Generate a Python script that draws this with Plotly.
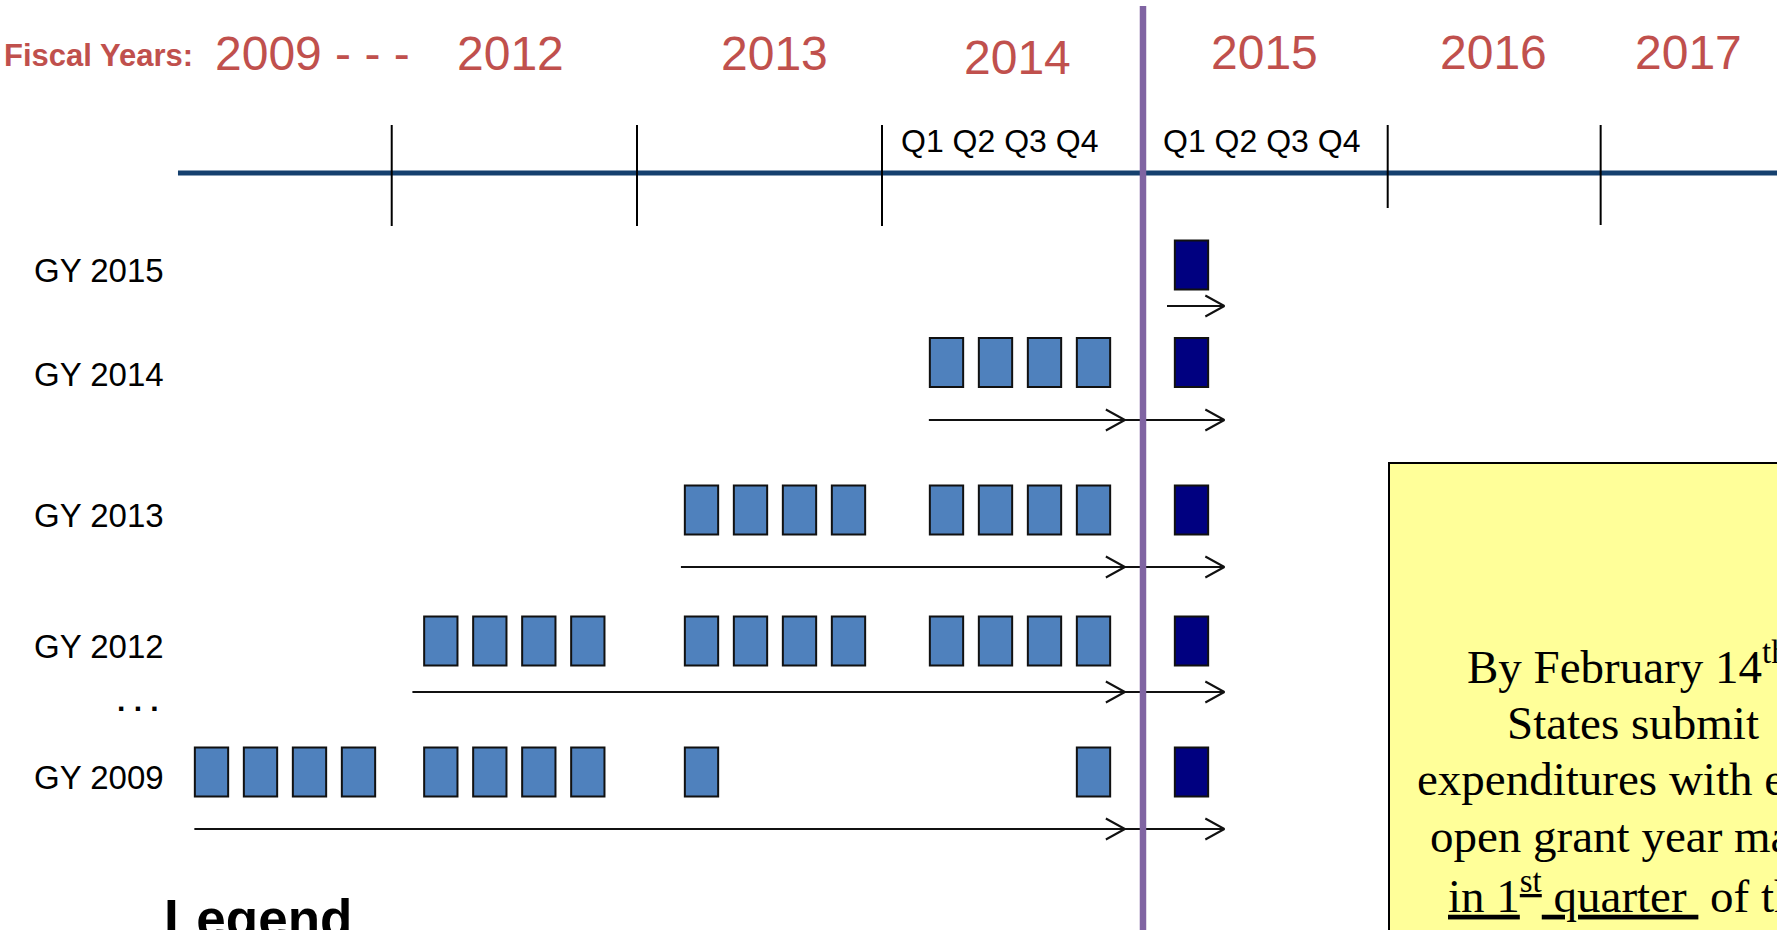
import plotly.graph_objects as go

# ---------------- data ----------------
axis_title = "Fiscal Years:"
fiscal_year_labels = ["2009 - - -", "2012", "2013", "2014", "2015", "2016", "2017"]
quarter_labels = ["Q1", "Q2", "Q3", "Q4"]
quarter_label_years = ["2014", "2015"]
grant_years = ["GY 2015", "GY 2014", "GY 2013", "GY 2012", "GY 2009"]
report_columns = ["2009", "2012", "2013", "2014"]
# quarters with reported expenditures, per grant year, per fiscal-year column
gy2015_reports = [[], [], [], []]
gy2014_reports = [[], [], [], [1, 2, 3, 4]]
gy2013_reports = [[], [], [1, 2, 3, 4], [1, 2, 3, 4]]
gy2012_reports = [[], [1, 2, 3, 4], [1, 2, 3, 4], [1, 2, 3, 4]]
gy2009_reports = [[1, 2, 3, 4], [1, 2, 3, 4], [1], [4]]
current_year = "2015"
current_quarter = 1
ellipsis_label = ". . ."
legend_title = "Legend"
note_lines = [
    "By February 14<sup>th</sup>,",
    "States submit",
    "expenditures with each",
    "open grant year made",
    "<u>in 1<sup>st</sup> quarter </u> of the",
]

# ---------------- layout geometry (not data) ----------------
W, H = 1777, 930
PX_PER_Q = 49.0          # pixels per quarter on the x axis
X0_PX = 211.5            # pixel of x = 0
x_min = -X0_PX / PX_PER_Q
x_max = (W - X0_PX) / PX_PER_Q

col_q1 = {"2009": 0.0, "2012": 4.68, "2013": 10.0, "2014": 15.0, "2015": 20.0}
year_label_x = [0.031, 6.112, 11.48, 16.459, 21.48, 26.153, 30.143]
year_label_anchor = ["left", "center", "center", "center", "center", "center", "center"]
year_label_y = [53, 53, 53, 57, 52, 52, 52]
quarter_label_x = {"2014": 16.08, "2015": 21.43}
tick_x = [3.678, 8.684, 13.684, 24.004, 28.35]
tick_y1 = [226, 226, 226, 208, 225]
today_x = 19.01
timeline_y = 173
timeline_x0 = -0.684

row_box_center = [265, 362.5, 510, 641, 772]
row_label_y = [270.5, 374.5, 515.5, 646.5, 777.5]
row_arrow_y = [306, 420, 567, 692, 829]
row_arrow_start = [19.5, 14.64, 9.58, 4.1, -0.35]
arrow_mid_tip = 18.64
arrow_end_tip = 20.67
HEAD_DX = 19 / PX_PER_Q
HEAD_DY = 10.5
BOX_W = 0.68
BOX_H = 49

RED = "#C0504D"
BLUE = "#4F81BD"
NAVY = "#000080"
LINE_NAVY = "#15406E"
PURPLE = "#8064A2"
SANS = "Liberation Sans, Arial, sans-serif"
SERIF = "Liberation Serif, Times New Roman, serif"

fig = go.Figure()

# boxes
rows_reports = [gy2015_reports, gy2014_reports, gy2013_reports, gy2012_reports, gy2009_reports]
bx, bbase = [], []
for r, reports in enumerate(rows_reports):
    for c, col in enumerate(report_columns):
        for q in reports[c]:
            bx.append(col_q1[col] + (q - 1))
            bbase.append(row_box_center[r] - BOX_H / 2)
fig.add_trace(go.Bar(x=bx, y=[BOX_H] * len(bx), base=bbase, width=BOX_W,
                     marker=dict(color=BLUE, line=dict(color="#111111", width=2)),
                     hoverinfo="skip"))
dx = [col_q1[current_year] + (current_quarter - 1)] * len(grant_years)
dbase = [c - BOX_H / 2 for c in row_box_center]
fig.add_trace(go.Bar(x=dx, y=[BOX_H] * len(dx), base=dbase, width=BOX_W,
                     marker=dict(color=NAVY, line=dict(color="#111111", width=2)),
                     hoverinfo="skip"))

# timeline ticks
tx, ty = [], []
for xv, y1 in zip(tick_x, tick_y1):
    tx += [xv, xv, None]
    ty += [125, y1, None]
fig.add_trace(go.Scatter(x=tx, y=ty, mode="lines", line=dict(color="black", width=2),
                         hoverinfo="skip"))

# arrows (shaft + open chevron head)
ax_, ay_ = [], []
def add_arrow(x0, x1, yv):
    ax_.extend([x0, x1, None, x1 - HEAD_DX, x1, x1 - HEAD_DX, None])
    ay_.extend([yv, yv, None, yv - HEAD_DY, yv, yv + HEAD_DY, None])
for ys, xs in zip(row_arrow_y, row_arrow_start):
    if xs < arrow_mid_tip:
        add_arrow(xs, arrow_mid_tip, ys)
        add_arrow(arrow_mid_tip, arrow_end_tip, ys)
    else:
        add_arrow(xs, arrow_end_tip, ys)
fig.add_trace(go.Scatter(x=ax_, y=ay_, mode="lines", line=dict(color="#111111", width=2),
                         hoverinfo="skip"))

shapes = []
# main timeline
shapes.append(dict(type="line", xref="x", yref="y", x0=timeline_x0, x1=x_max + 1,
                   y0=timeline_y, y1=timeline_y, line=dict(color=LINE_NAVY, width=5), layer="below"))
# yellow note box
shapes.append(dict(type="rect", xref="x", yref="y", x0=(1389 - X0_PX) / PX_PER_Q, x1=x_max + 3,
                   y0=463, y1=H + 20, fillcolor="#FFFF99", line=dict(color="black", width=2),
                   layer="below"))
# today line
shapes.append(dict(type="line", xref="x", yref="y", x0=today_x, x1=today_x, y0=6, y1=H + 5,
                   line=dict(color=PURPLE, width=6.5), layer="above"))

ann = []
ann.append(dict(x=(2 - X0_PX) / PX_PER_Q, y=55, text=axis_title, xanchor="left", yanchor="middle",
                showarrow=False, font=dict(family=SANS, size=31, color=RED, weight="bold")))
for lab, xv, anc, yv in zip(fiscal_year_labels, year_label_x, year_label_anchor, year_label_y):
    ann.append(dict(x=xv, y=yv, text=lab, xanchor=anc, yanchor="middle", showarrow=False,
                    font=dict(family=SANS, size=48, color=RED)))
for yr in quarter_label_years:
    ann.append(dict(x=quarter_label_x[yr], y=141, text=" ".join(quarter_labels), xanchor="center",
                    yanchor="middle", showarrow=False, font=dict(family=SANS, size=32, color="black")))
for lab, yv in zip(grant_years, row_label_y):
    ann.append(dict(x=(32 - X0_PX) / PX_PER_Q, y=yv, text=lab, xanchor="left", yanchor="middle",
                    showarrow=False, font=dict(family=SANS, size=33, color="black")))
ann.append(dict(x=(138 - X0_PX) / PX_PER_Q, y=700, text=ellipsis_label, xanchor="center",
                yanchor="middle", showarrow=False,
                font=dict(family=SANS, size=30, color="black", weight="bold")))
ann.append(dict(x=(162 - X0_PX) / PX_PER_Q, y=918, text=legend_title, xanchor="left",
                yanchor="middle", showarrow=False,
                font=dict(family=SANS, size=53, color="black", weight="bold")))

# note text
note_center_x = (1633 - X0_PX) / PX_PER_Q
note_y = [663, 722.5, 779, 835.5, 892.5]
for line, yv in zip(note_lines, note_y):
    ann.append(dict(x=note_center_x, y=yv, text=line, xanchor="center", yanchor="middle",
                    showarrow=False, font=dict(family=SERIF, size=47, color="black")))

fig.update_layout(
    width=W, height=H,
    margin=dict(l=0, r=0, t=0, b=0),
    paper_bgcolor="white", plot_bgcolor="white",
    showlegend=False, barmode="overlay", hovermode=False,
    xaxis=dict(range=[x_min, x_max], visible=False, fixedrange=True),
    yaxis=dict(range=[H, 0], visible=False, fixedrange=True),
    shapes=shapes, annotations=ann,
)

fig.write_html("out.html", config={"displayModeBar": False},
               post_script="document.body.style.margin='0';")
